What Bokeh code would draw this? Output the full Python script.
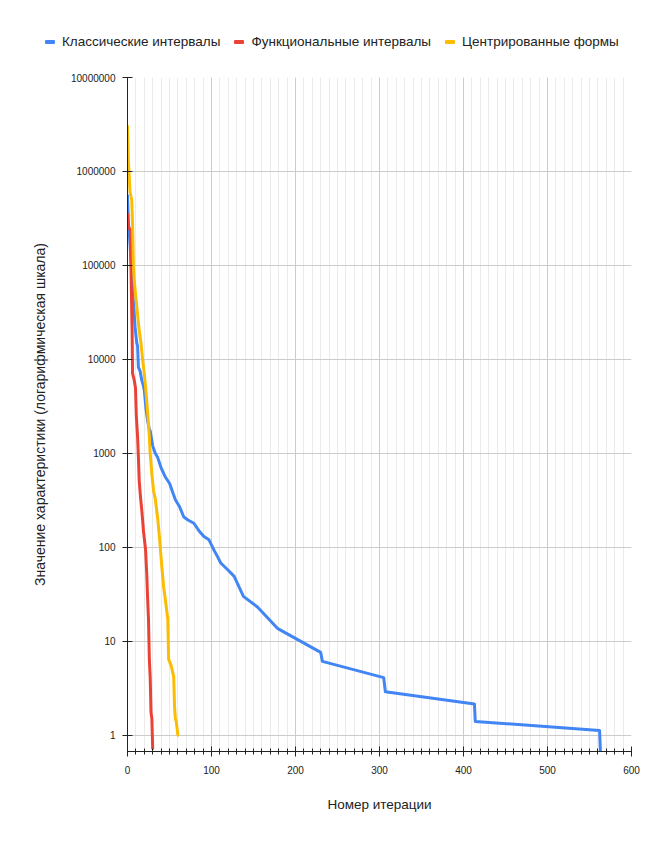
from bokeh.plotting import figure
from bokeh.layouts import column
from bokeh.models import (Range1d, FixedTicker, NumeralTickFormatter, SingleIntervalTicker, Div)
from bokeh.embed import file_html
from bokeh.resources import INLINE

# ---- data ----
classic_x = [0, 1, 3, 5, 7, 9, 11, 12, 13, 15, 17, 19, 20, 22, 24, 26, 27, 30, 33, 36, 40, 45, 50, 54,
             57, 62, 67, 72, 79, 85, 91, 97, 103, 107, 111, 119, 127, 138, 155, 179, 230, 232, 305, 307,
             413, 414, 562, 563]
classic_y = [550000, 300000, 170000, 80000, 42000, 22000, 15000, 14000, 8200, 7500, 6000, 5200, 4700,
             3000, 2200, 1800, 1740, 1200, 1000, 900, 700, 560, 480, 380, 320, 270, 210, 195, 180, 150,
             130, 120, 93, 80, 68, 58, 49, 30, 23, 13.6, 7.6, 6.1, 4.1, 2.9, 2.15, 1.4, 1.12, 0.67]

func_x = [0, 1, 3, 3.6, 4.5, 5.5, 6, 8, 9.5, 10.5, 12, 13, 14, 15.5, 17, 19, 21.5, 23, 24, 25, 26, 27,
          28, 29, 30]
func_y = [350000, 260000, 240000, 230000, 60000, 20000, 7100, 6000, 5000, 2500, 1500, 900, 500, 340,
          250, 150, 94, 50, 28, 17, 6.4, 4.2, 1.75, 1.5, 0.72]

center_x = [0, 1, 2, 3, 5, 6, 7, 8, 10, 12, 14, 16, 18, 20, 22, 24, 26, 27, 29, 31, 33, 36, 38, 39, 41,
            43, 45, 48, 48.5, 49, 52, 55, 56, 57, 58, 60]
center_y = [3000000, 1300000, 900000, 600000, 500000, 280000, 100000, 70000, 45000, 30000, 20000, 15000,
            10000, 7000, 4500, 2700, 1500, 1000, 600, 400, 330, 200, 130, 100, 60, 38, 28, 17, 10, 6.4,
            5.5, 4.2, 2.0, 1.5, 1.4, 1.0]

series_names = ["Классические интервалы", "Функциональные интервалы", "Центрированные формы"]
series_colors = ["#4285F4", "#EA4335", "#FBBC04"]
y_ticks = [1, 10, 100, 1000, 10000, 100000, 1000000, 10000000]

FONT = "Liberation Sans"
W = 656

# ---- legend strip (HTML) ----
items_html = ""
for n, c in zip(series_names, series_colors):
    items_html += (
        '<span style="display:inline-flex;align-items:center;margin-right:14px;height:16px;">'
        f'<span style="display:inline-block;width:10px;height:4px;border-radius:1px;background:{c};'
        'margin-right:7px;"></span>'
        f'<span style="white-space:nowrap;">{n}</span></span>'
    )
legend_html = (
    f'<div style="display:flex;align-items:flex-start;box-sizing:border-box;width:{W}px;height:60px;'
    f"padding-left:45px;padding-top:34px;font-family:'{FONT}';font-size:13.5px;"
    'color:#222222;line-height:16px;">'
    + items_html + '</div>'
)
leg = Div(text=legend_html, width=W, height=60, margin=(0, 0, 0, 0))

# ---- main chart ----
p = figure(width=W, height=776, y_axis_type="log", output_backend="svg", toolbar_location=None,
           x_range=Range1d(0, 600), y_range=Range1d(0.67, 10000000),
           min_border_left=127, min_border_right=25, min_border_top=17, min_border_bottom=85)
p.outline_line_color = None
p.background_fill_color = "white"
p.border_fill_color = "white"

for xs, ys, c in [(classic_x, classic_y, series_colors[0]),
                  (func_x, func_y, series_colors[1]),
                  (center_x, center_y, series_colors[2])]:
    p.line(xs, ys, line_color=c, line_width=3, line_join="round", line_cap="round")

# grids
p.xgrid.ticker = SingleIntervalTicker(interval=100, num_minor_ticks=10)
p.xgrid.grid_line_color = "#cccccc"
p.xgrid.minor_grid_line_color = "#ebebeb"
p.ygrid.ticker = FixedTicker(ticks=y_ticks)
p.ygrid.grid_line_color = "#cccccc"

# x axis
xa = p.xaxis[0]
xa.ticker = SingleIntervalTicker(interval=100, num_minor_ticks=10)
xa.axis_line_color = "#222222"
xa.major_tick_line_color = "#222222"
xa.minor_tick_line_color = "#222222"
xa.major_tick_in = 5
xa.major_tick_out = 5
xa.minor_tick_in = 3
xa.minor_tick_out = 3
xa.major_label_text_font = FONT
xa.major_label_text_font_size = "10px"
xa.major_label_text_color = "#222222"
xa.major_label_standoff = 9
xa.axis_label = "Номер итерации"
xa.axis_label_text_font = FONT
xa.axis_label_text_font_size = "13.5px"
xa.axis_label_text_font_style = "normal"
xa.axis_label_text_color = "#222222"
xa.axis_label_standoff = 20

# y axis
ya = p.yaxis[0]
ya.ticker = FixedTicker(ticks=y_ticks)
ya.formatter = NumeralTickFormatter(format="0")
ya.axis_line_color = "#222222"
ya.major_tick_line_color = "#222222"
ya.minor_tick_line_color = None
ya.major_tick_in = 5
ya.major_tick_out = 5
ya.major_label_text_font = FONT
ya.major_label_text_font_size = "10px"
ya.major_label_text_color = "#222222"
ya.major_label_standoff = 7
ya.axis_label = "Значение характеристики (логарифмическая шкала)"
ya.axis_label_text_font = FONT
ya.axis_label_text_font_size = "14px"
ya.axis_label_text_font_style = "normal"
ya.axis_label_text_color = "#222222"
ya.axis_label_standoff = 20

layout = column(leg, p, spacing=0)
open("out.html", "w").write(file_html(layout, INLINE))
